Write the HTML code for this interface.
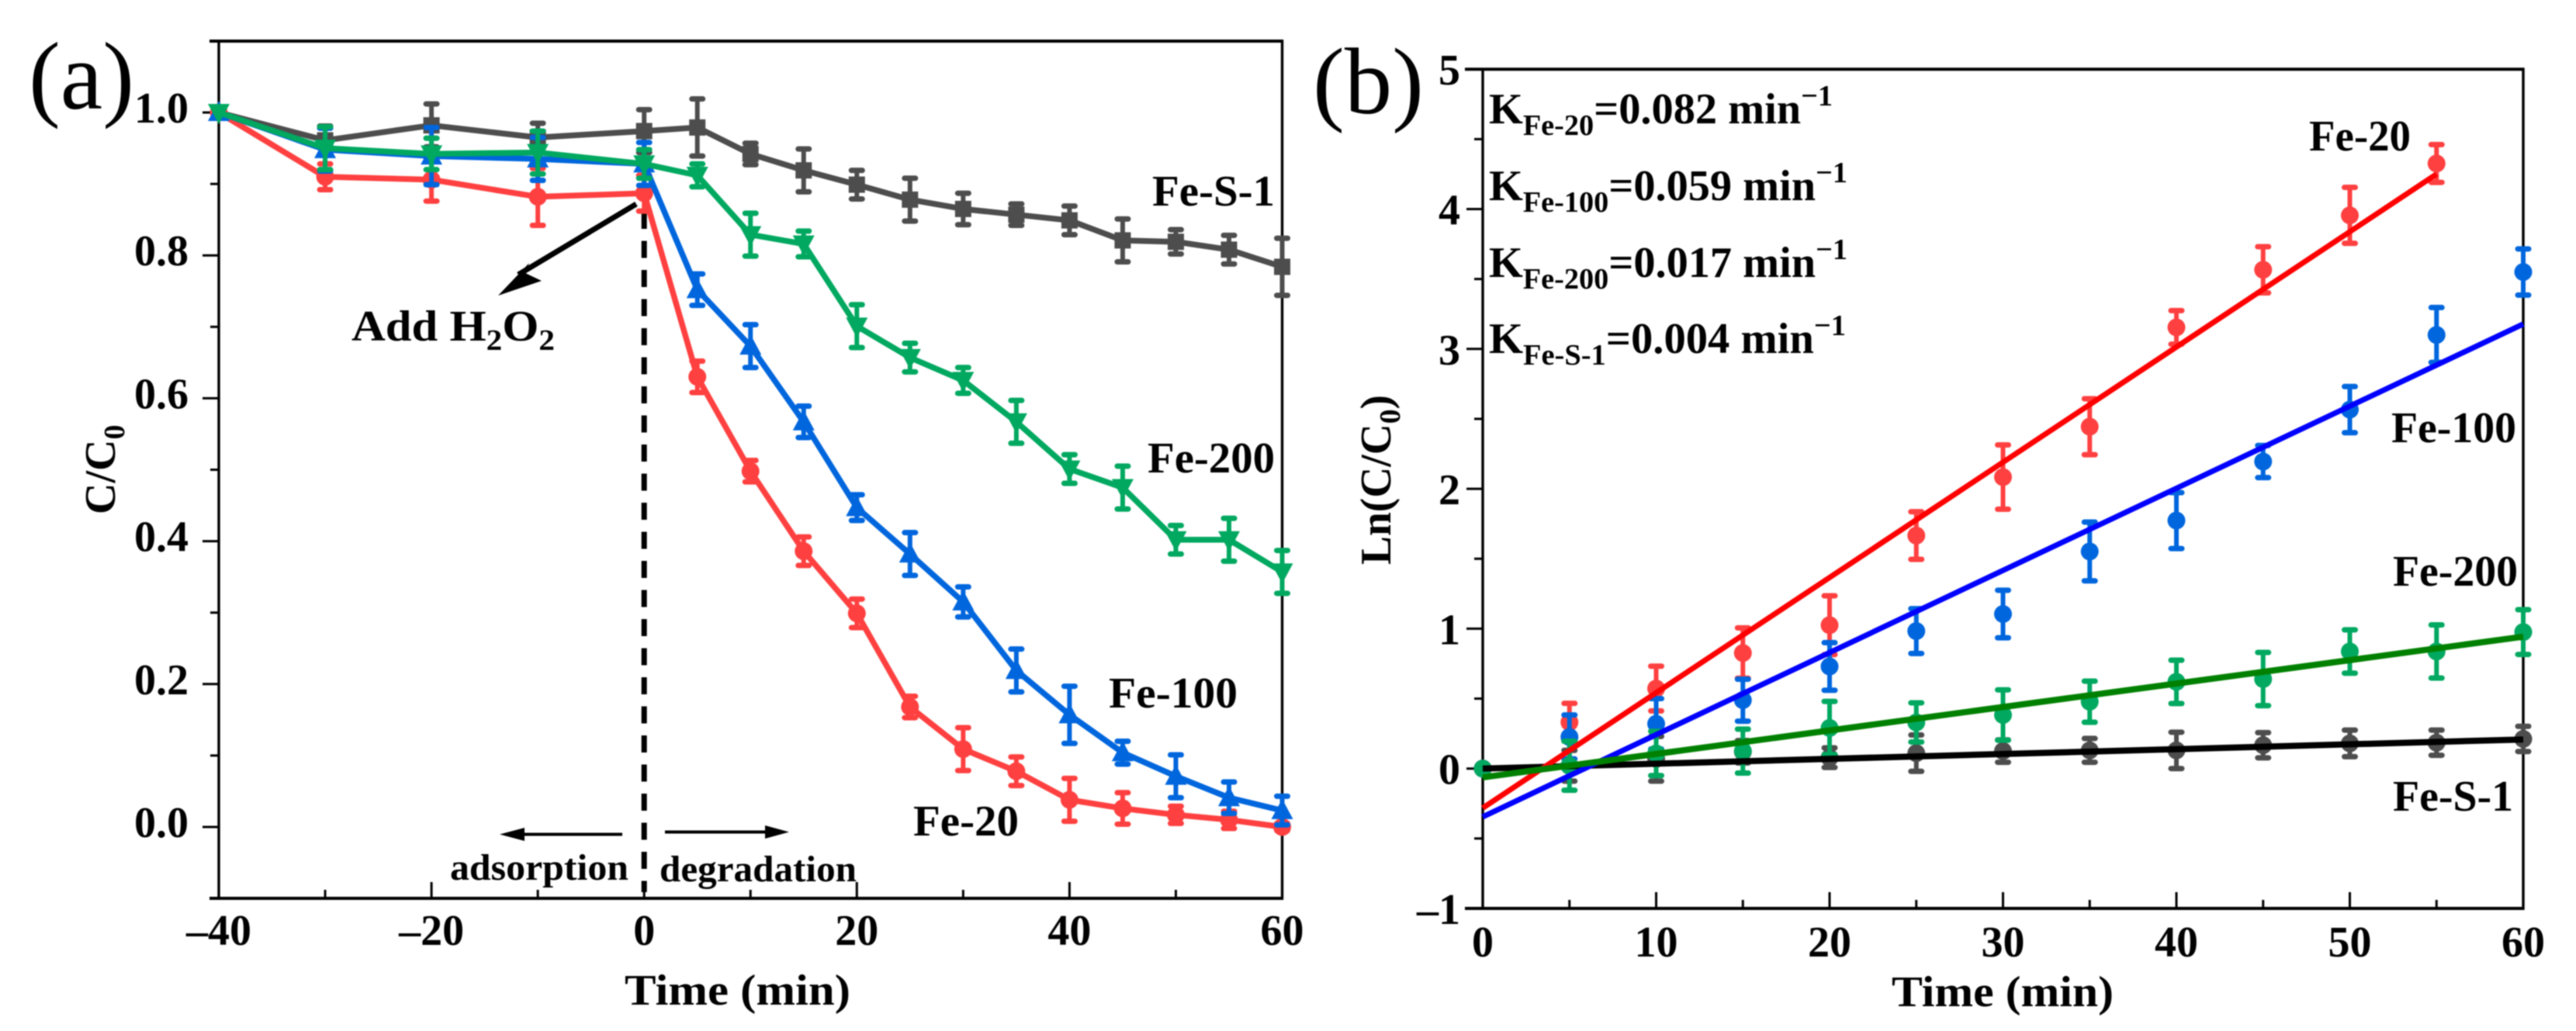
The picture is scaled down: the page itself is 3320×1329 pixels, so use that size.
<!DOCTYPE html>
<html>
<head>
<meta charset="utf-8">
<title>Fe catalyst degradation charts</title>
<style>
html,body{margin:0;padding:0;background:#fff;}
svg{display:block;filter:blur(0.7px);}
text{font-family:"Liberation Serif",serif;font-weight:bold;fill:#000;}
</style>
</head>
<body>
<svg id="chart" xmlns="http://www.w3.org/2000/svg" width="3320" height="1329" viewBox="0 0 3320 1329">
<rect x="0" y="0" width="3320" height="1329" fill="#fff"/>
<g id="panelA"></g>
<g id="panelB"></g>

<text x="37" y="140" font-size="124" style="font-weight:normal" textLength="136" lengthAdjust="spacingAndGlyphs">(a)</text>
<text x="1692" y="146" font-size="122" style="font-weight:normal" textLength="143" lengthAdjust="spacingAndGlyphs">(b)</text>

<text x="805" y="1295" font-size="56" textLength="291" lengthAdjust="spacingAndGlyphs">Time (min)</text>
<text x="2438" y="1297" font-size="56" textLength="286" lengthAdjust="spacingAndGlyphs">Time (min)</text>
<text transform="translate(148,663) rotate(-90)" font-size="56">C/C<tspan font-size="38" dy="12">0</tspan></text>
<text transform="translate(1792,728) rotate(-90)" font-size="56" textLength="219" lengthAdjust="spacingAndGlyphs">Ln(C/C<tspan font-size="38" dy="12">0</tspan><tspan dy="-12">)</tspan></text>

<text x="1485" y="265" font-size="56" textLength="158" lengthAdjust="spacingAndGlyphs">Fe-S-1</text>
<text x="1479" y="609" font-size="56" textLength="164" lengthAdjust="spacingAndGlyphs">Fe-200</text>
<text x="1429" y="912" font-size="56" textLength="166" lengthAdjust="spacingAndGlyphs">Fe-100</text>
<text x="1177" y="1077" font-size="56" textLength="136" lengthAdjust="spacingAndGlyphs">Fe-20</text>
<text x="580" y="1134" font-size="48" textLength="230" lengthAdjust="spacingAndGlyphs">adsorption</text>
<text x="850" y="1136" font-size="48" textLength="254" lengthAdjust="spacingAndGlyphs">degradation</text>
<text x="453" y="439" font-size="56" textLength="262" lengthAdjust="spacingAndGlyphs">Add H<tspan font-size="38" dy="12">2</tspan><tspan dy="-12">O</tspan><tspan font-size="38" dy="12">2</tspan></text>

<line x1="820" y1="263" x2="668" y2="354" stroke="#000" stroke-width="7"/>
<polygon points="642,381 682,339 677,352 698,362" fill="#000"/>
<line x1="802" y1="1075.5" x2="672" y2="1075.5" stroke="#000" stroke-width="4"/>
<polygon points="644,1075.5 676,1067 676,1084" fill="#000"/>
<line x1="857" y1="1072.5" x2="990" y2="1072.5" stroke="#000" stroke-width="4"/>
<polygon points="1017,1072.5 986,1064 986,1081" fill="#000"/>

<text x="1919" y="159" font-size="56" textLength="443" lengthAdjust="spacingAndGlyphs">K<tspan font-size="38" dy="15">Fe-20</tspan><tspan dy="-15">=0.082 min</tspan><tspan font-size="38" dy="-23">−1</tspan></text>
<text x="1919" y="258" font-size="56" textLength="462" lengthAdjust="spacingAndGlyphs">K<tspan font-size="38" dy="15">Fe-100</tspan><tspan dy="-15">=0.059 min</tspan><tspan font-size="38" dy="-23">−1</tspan></text>
<text x="1919" y="357" font-size="56" textLength="462" lengthAdjust="spacingAndGlyphs">K<tspan font-size="38" dy="15">Fe-200</tspan><tspan dy="-15">=0.017 min</tspan><tspan font-size="38" dy="-23">−1</tspan></text>
<text x="1919" y="455" font-size="56" textLength="460" lengthAdjust="spacingAndGlyphs">K<tspan font-size="38" dy="15">Fe-S-1</tspan><tspan dy="-15">=0.004 min</tspan><tspan font-size="38" dy="-23">−1</tspan></text>

<text x="2976" y="194" font-size="56" textLength="131" lengthAdjust="spacingAndGlyphs">Fe-20</text>
<text x="3082" y="570" font-size="56" textLength="161" lengthAdjust="spacingAndGlyphs">Fe-100</text>
<text x="3084" y="755" font-size="56" textLength="161" lengthAdjust="spacingAndGlyphs">Fe-200</text>
<text x="3084" y="1045" font-size="56" textLength="155" lengthAdjust="spacingAndGlyphs">Fe-S-1</text>
</svg>

<script>
// ---- Panel (a) data ----
var timeA = [-40,-30,-20,-10,0,5,10,15,20,25,30,35,40,45,50,55,60];
var feS1A = [1,0.961,0.982,0.965,0.974,0.979,0.942,0.919,0.899,0.878,0.865,0.857,0.849,0.821,0.819,0.808,0.784];
var feS1ErrA = [0,0.02,0.03,0.02,0.03,0.04,0.015,0.03,0.02,0.03,0.022,0.015,0.02,0.03,0.017,0.02,0.04];
var fe20A = [1,0.910,0.906,0.882,0.887,0.630,0.498,0.386,0.299,0.168,0.109,0.078,0.038,0.026,0.017,0.010,0];
var fe20ErrA = [0,0.018,0.03,0.04,0.025,0.022,0.015,0.02,0.02,0.015,0.03,0.02,0.03,0.022,0.012,0.012,0.005];
var fe100A = [1,0.948,0.939,0.935,0.928,0.752,0.673,0.567,0.447,0.382,0.315,0.219,0.157,0.104,0.071,0.041,0.023];
var fe100ErrA = [0,0.03,0.04,0.03,0.03,0.022,0.03,0.022,0.018,0.03,0.021,0.03,0.04,0.016,0.03,0.022,0.02];
var fe200A = [1,0.950,0.942,0.944,0.928,0.912,0.829,0.816,0.701,0.657,0.625,0.567,0.501,0.475,0.402,0.402,0.357];
var fe200ErrA = [0,0.03,0.022,0.03,0.02,0.016,0.03,0.018,0.03,0.02,0.018,0.03,0.02,0.03,0.02,0.03,0.03];
var xTicksA = [-40,-30,-20,-10,0,10,20,30,40,50,60];
var xLabelsA = ['\u201340','\u201320','0','20','40','60'];
var xLabelValuesA = [-40,-20,0,20,40,60];
var yTicksA = [-0.1,0,0.1,0.2,0.3,0.4,0.5,0.6,0.7,0.8,0.9,1.0,1.1];
var yLabelsA = ['0.0','0.2','0.4','0.6','0.8','1.0'];
var yLabelValuesA = [0,0.2,0.4,0.6,0.8,1.0];

// ---- Panel (b) data ----
var timeB = [0,5,10,15,20,25,30,35,40,45,50,55,60];
var feS1B = [0,0.02,0.07,0.12,0.078,0.11,0.125,0.13,0.13,0.167,0.18,0.185,0.212];
var feS1ErrB = [0,0.11,0.16,0.08,0.07,0.13,0.08,0.085,0.13,0.09,0.095,0.09,0.09];
var timeFe20B = [0,5,10,15,20,25,30,35,40,45,50,55];
var fe20B = [0,0.331,0.572,0.826,1.025,1.666,2.084,2.444,3.154,3.566,3.955,4.326];
var fe20ErrB = [0,0.135,0.16,0.18,0.21,0.17,0.23,0.2,0.12,0.165,0.2,0.135];
var fe100B = [0,0.226,0.32,0.489,0.73,0.983,1.105,1.552,1.773,2.195,2.566,3.10,3.55];
var fe100ErrB = [0,0.157,0.18,0.15,0.17,0.16,0.17,0.21,0.2,0.115,0.165,0.196,0.165];
var fe200B = [0,0.02,0.108,0.125,0.29,0.33,0.383,0.478,0.62,0.64,0.837,0.837,0.976];
var fe200ErrB = [0,0.175,0.158,0.157,0.19,0.14,0.18,0.147,0.155,0.19,0.155,0.19,0.16];
var fitTimeFe20 = [0,55];
var fitFe20 = [-0.282,4.25];
var fitTimeOthers = [0,60];
var fitFe100 = [-0.345,3.178];
var fitFe200 = [-0.063,0.943];
var fitFeS1 = [0,0.208];
var xTicksB = [0,5,10,15,20,25,30,35,40,45,50,55,60];
var xLabelsB = ['0','10','20','30','40','50','60'];
var xLabelValuesB = [0,10,20,30,40,50,60];
var yTicksB = [-1,-0.5,0,0.5,1,1.5,2,2.5,3,3.5,4,4.5,5];
var yLabelsB = ['\u20131','0','1','2','3','4','5'];
var yLabelValuesB = [-1,0,1,2,3,4,5];

// ---- Axis functions ----
function xA(t){ return 282 + (t + 40) * (1652.5 - 282) / 100; }
function yA(v){ return 1066 - v * 921; }
function xB(t){ return 1911 + t * (3252 - 1911) / 60; }
function yB(v){ return 990.7 - v * 180.3; }

var NS = 'http://www.w3.org/2000/svg';
function mk(parent, tag, attrs){
  var node = document.createElementNS(NS, tag);
  for (var k in attrs) node.setAttribute(k, attrs[k]);
  parent.appendChild(node);
  return node;
}

function drawFrame(parent, x0, x1, y0, y1, sx, sy, xTicks, yTicks, xMajor, yMajor, xLabelVals, xLabels, yLabelVals, yLabels, xLabelY, yLabelX, yLabelOffset){
  var el;
  xTicks.forEach(function(t){
    var major = xMajor(t);
    el = mk(parent, 'line', {x1:sx(t), x2:sx(t), y1:y1, y2:y1 - (major ? 21 : 11), stroke:'#000', 'stroke-width':3});
    
    
  });
  yTicks.forEach(function(v){
    var major = yMajor(v);
    el = mk(parent, 'line', {x1:x0, x2:x0 - (major ? 21 : 11), y1:sy(v), y2:sy(v), stroke:'#000', 'stroke-width':3});
    
    
  });
  el = mk(parent, 'rect', {x:x0, y:y0, width:x1 - x0, height:y1 - y0, fill:'none', stroke:'#000', 'stroke-width':3.4});
  
  
  xLabelVals.forEach(function(t, i){
    el = mk(parent, 'text', {x:sx(t), y:xLabelY, 'font-size':56, 'text-anchor':'middle'});
    el.textContent = xLabels[i];
    
    
  });
  yLabelVals.forEach(function(v, i){
    el = mk(parent, 'text', {x:yLabelX, y:sy(v) + yLabelOffset, 'font-size':56, 'text-anchor':'end'});
    el.textContent = yLabels[i];
    
    
  });
}

function drawMarker(parent, shape, cx, cy, color){
  var el;
  if (shape === 'square') {
    el = mk(parent, 'rect', {x:cx - 10.5, y:cy - 10.5, width:21, height:21, fill:color});
  } else if (shape === 'up') {
    el = mk(parent, 'polygon', {points:(cx)+','+(cy-15)+' '+(cx+14)+','+(cy+11)+' '+(cx-14)+','+(cy+11), fill:color});
  } else if (shape === 'down') {
    el = mk(parent, 'polygon', {points:(cx)+','+(cy+15)+' '+(cx+14)+','+(cy-11)+' '+(cx-14)+','+(cy-11), fill:color});
  } else {
    el = mk(parent, 'circle', {cx:cx, cy:cy, r:11.5, fill:color});
  }
  
  
}

function drawErrors(parent, times, values, errs, sx, sy, color, shape){
  var el;
  times.forEach(function(t, i){
    var cx = sx(t), cy = sy(values[i]);
    if (errs[i] > 0) {
      var top = sy(values[i] + errs[i]), bot = sy(values[i] - errs[i]);
      el = mk(parent, 'line', {x1:cx, x2:cx, y1:top, y2:bot, stroke:color, 'stroke-width':6});
      
      
      el = mk(parent, 'line', {x1:cx - 7, x2:cx + 7, y1:top, y2:top, stroke:color, 'stroke-width':7, 'stroke-linecap':'round'});
      
      
      el = mk(parent, 'line', {x1:cx - 7, x2:cx + 7, y1:bot, y2:bot, stroke:color, 'stroke-width':7, 'stroke-linecap':'round'});
      
      
    }
    drawMarker(parent, shape, cx, cy, color);
  });
}

function drawPolyline(parent, times, values, sx, sy, color, width){
  var pts = times.map(function(t, i){ return sx(t) + ',' + sy(values[i]); }).join(' ');
  var el = mk(parent, 'polyline', {points:pts, fill:'none', stroke:color, 'stroke-width':width, 'stroke-linejoin':'round'});
  
  
}

// ---- Panel (a) ----
var gA = document.getElementById('panelA');
drawFrame(gA, xA(-40), xA(60), 53, 1158, xA, yA, xTicksA, yTicksA,
  function(t){ return t % 20 === 0; },
  function(v){ return Math.abs(Math.round(v * 10)) % 2 === 0; },
  xLabelValuesA, xLabelsA, yLabelValuesA, yLabelsA, 1218, 243, 13);
var topA = mk(gA, 'line', {x1:270, x2:xA(60) + 1.5, y1:53, y2:53, stroke:'#000', 'stroke-width':4});


var botA = mk(gA, 'line', {x1:270, x2:xA(60) + 1.5, y1:1158, y2:1158, stroke:'#000', 'stroke-width':4});


var dashA = mk(gA, 'line', {x1:xA(0), x2:xA(0), y1:yA(0.861), y2:1150, stroke:'#000', 'stroke-width':7, 'stroke-dasharray':'22 15.5'});



drawErrors(gA, timeA, feS1A, feS1ErrA, xA, yA, '#4d4d4d', 'square');
drawPolyline(gA, timeA, feS1A, xA, yA, '#4d4d4d', 7.5);
drawErrors(gA, timeA, fe20A, fe20ErrA, xA, yA, '#ff4040', 'circle');
drawPolyline(gA, timeA, fe20A, xA, yA, '#ff4040', 7.5);
drawErrors(gA, timeA, fe100A, fe100ErrA, xA, yA, '#0066dd', 'up');
drawPolyline(gA, timeA, fe100A, xA, yA, '#0066dd', 7.5);
drawErrors(gA, timeA, fe200A, fe200ErrA, xA, yA, '#00a860', 'down');
drawPolyline(gA, timeA, fe200A, xA, yA, '#00a860', 7.5);

// ---- Panel (b) ----
var gB = document.getElementById('panelB');
drawFrame(gB, xB(0), xB(60), yB(5), yB(-1), xB, yB, xTicksB, yTicksB,
  function(t){ return t % 10 === 0; },
  function(v){ return v % 1 === 0; },
  xLabelValuesB, xLabelsB, yLabelValuesB, yLabelsB, 1233, 1882, 20);
var topB = mk(gB, 'line', {x1:1888, x2:xB(60) + 1.5, y1:yB(5), y2:yB(5), stroke:'#000', 'stroke-width':4});


var botB = mk(gB, 'line', {x1:1888, x2:xB(60) + 1.5, y1:yB(-1), y2:yB(-1), stroke:'#000', 'stroke-width':4});



drawErrors(gB, timeB, feS1B, feS1ErrB, xB, yB, '#4d4d4d', 'circle');
drawErrors(gB, timeFe20B, fe20B, fe20ErrB, xB, yB, '#ff4040', 'circle');
drawErrors(gB, timeB, fe100B, fe100ErrB, xB, yB, '#0066dd', 'circle');
drawErrors(gB, timeB, fe200B, fe200ErrB, xB, yB, '#00a860', 'circle');
drawPolyline(gB, fitTimeOthers, fitFeS1, xB, yB, '#000000', 8);
drawPolyline(gB, fitTimeFe20, fitFe20, xB, yB, '#ff0000', 7);
drawPolyline(gB, fitTimeOthers, fitFe100, xB, yB, '#0000ff', 7);
drawPolyline(gB, fitTimeOthers, fitFe200, xB, yB, '#008000', 8);
</script>
</body>
</html>
